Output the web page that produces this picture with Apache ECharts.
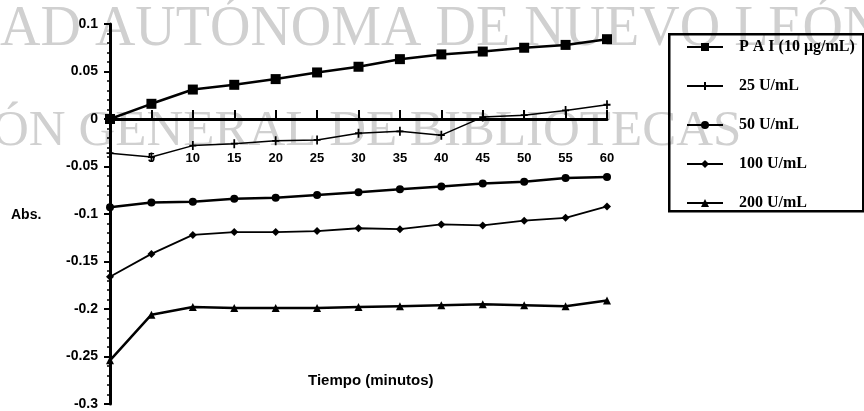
<!DOCTYPE html>
<html>
<head>
<meta charset="utf-8">
<script src="https://cdn.jsdelivr.net/npm/echarts@6/dist/echarts.min.js"></script>
<style>html,body{margin:0;padding:0;background:#fff}#c{width:864px;height:411px}</style>
</head>
<body>
<div id="c"></div>
<script>
var times = [0,5,10,15,20,25,30,35,40,45,50,55,60];
var seriesNames = ['P A I (10 \u03bcg/mL)','25 U/mL','50 U/mL','100 U/mL','200 U/mL'];
var pai   = [0.000,0.016,0.031,0.036,0.042,0.049,0.055,0.063,0.068,0.071,0.075,0.078,0.084];
var u25   = [-0.036,-0.040,-0.028,-0.026,-0.023,-0.022,-0.015,-0.013,-0.017,0.002,0.004,0.009,0.015];
var u50   = [-0.093,-0.088,-0.087,-0.084,-0.083,-0.080,-0.077,-0.074,-0.071,-0.068,-0.066,-0.062,-0.061];
var u100  = [-0.166,-0.142,-0.122,-0.119,-0.119,-0.118,-0.115,-0.116,-0.111,-0.112,-0.107,-0.104,-0.092];
var u200  = [-0.254,-0.206,-0.198,-0.199,-0.199,-0.199,-0.198,-0.197,-0.196,-0.195,-0.196,-0.197,-0.191];
var yTicks = {min:-0.3, max:0.1, step:0.05};
var xTicks = {min:0, max:60, step:5};

function pairs(arr){ return arr.map(function(v,i){ return [times[i], v]; }); }
function mk(name, data, symbol, size, width){
  return {name:name, type:'line', data:pairs(data), symbol:symbol, symbolSize:size,
    xAxisIndex:0, yAxisIndex:0,
    lineStyle:{color:'#000', width:width}, itemStyle:{color:'#000'}, z:5};
}
var chart = echarts.init(document.getElementById('c'), null, {renderer:'canvas'});
var lblY = {color:'#000', fontFamily:'Liberation Sans', fontWeight:'bold', fontSize:14};
var lblX = {color:'#000', fontFamily:'Liberation Sans', fontWeight:'bold', fontSize:13};
var plus = 'path://M-1,-5H1V-1H4V1H1V5H-1V1H-4V-1H-1Z';
chart.setOption({
  animation:false,
  backgroundColor:'#fff',
  grid:[{left:110, right:257, top:24, bottom:7},
        {left:110, right:257, top:24, height:95}],
  xAxis:[{type:'value', gridIndex:0, min:xTicks.min, max:xTicks.max, interval:xTicks.step,
    axisLine:{onZero:true, lineStyle:{color:'#000', width:3}},
    axisTick:{inside:true, length:9, lineStyle:{color:'#000', width:2}},
    axisLabel:{show:false},
    splitLine:{show:false}},
   {type:'value', gridIndex:1, min:xTicks.min, max:xTicks.max, interval:xTicks.step,
    axisLine:{show:false}, axisTick:{show:false}, splitLine:{show:false},
    axisLabel:Object.assign({margin:33, formatter:function(v){return v===0?'':String(v);}}, lblX)}],
  yAxis:[{type:'value', gridIndex:0, min:yTicks.min, max:yTicks.max, interval:yTicks.step,
    axisLine:{show:true, onZero:false, lineStyle:{color:'#000', width:3}},
    axisTick:{show:true, length:6, lineStyle:{color:'#000', width:2}},
    minorTick:{show:true, splitNumber:5, length:3, lineStyle:{color:'#000', width:1.5}},
    axisLabel:Object.assign({margin:12, formatter:function(v){return String(+v.toFixed(2));}}, lblY),
    splitLine:{show:false}},
   {type:'value', gridIndex:1, min:0, max:1, show:false}],
  legend:{orient:'vertical', left:681, top:34, itemWidth:36, itemHeight:10, itemGap:23,
    data:seriesNames,
    textStyle:{color:'#000', fontFamily:'Liberation Serif', fontWeight:'bold', fontSize:16, padding:[0,0,0,11]}},
  graphic:[
    {type:'text', left:0, top:2, z:-10, silent:true,
      style:{text:'AD AUT\u00d3NOMA DE NUEVO LE\u00d3N', font:'56px "Liberation Serif"', fill:'#d0d0d0'}},
    {type:'text', left:-8, top:106, z:-10, silent:true,
      style:{text:'\u00d3N GENERAL DE BIBLIOTECAS', font:'51px "Liberation Serif"', fill:'#d0d0d0'}},
    {type:'rect', left:668, top:33, z:-5, silent:true, shape:{width:194, height:177},
      style:{fill:'transparent', stroke:'#000', lineWidth:2.5}},
    {type:'text', left:11, top:208, style:{text:'Abs.', font:'bold 14px "Liberation Sans"', fill:'#000'}},
    {type:'text', left:308, top:373, style:{text:'Tiempo (minutos)', font:'bold 15px "Liberation Sans"', fill:'#000'}}
  ],
  series:[
    mk(seriesNames[0], pai, 'rect', 10, 2.5),
    mk(seriesNames[1], u25, plus, [7,9], 1.5),
    mk(seriesNames[2], u50, 'circle', 8, 2.5),
    mk(seriesNames[3], u100, 'diamond', 8, 1.8),
    mk(seriesNames[4], u200, 'triangle', 8, 2.5)
  ]
});
</script>
</body>
</html>
